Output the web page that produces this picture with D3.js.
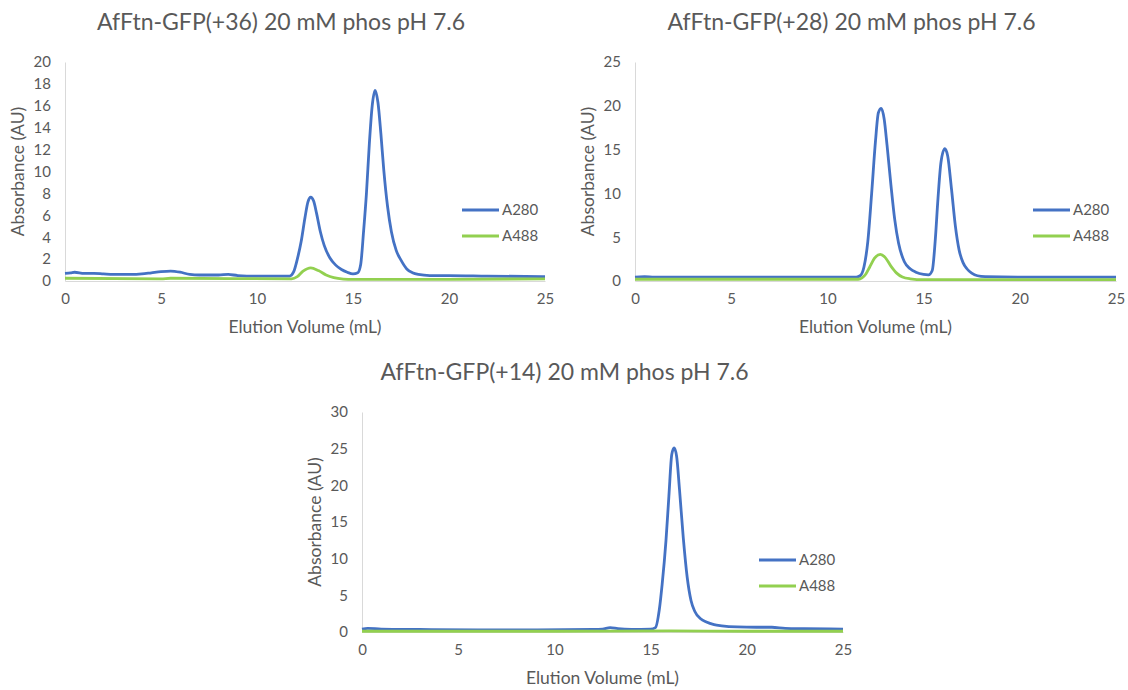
<!DOCTYPE html>
<html>
<head>
<meta charset="utf-8">
<script src="https://cdn.jsdelivr.net/npm/d3@7"></script>
<style>
  html, body { margin: 0; padding: 0; background: #fff; }
  svg { display: block; font-family: Lato, "Open Sans", sans-serif; }
</style>
</head>
<body>
<svg id="chart" width="1128" height="690"></svg>
<script>
// ---- Chromatogram data: [elution volume (mL), absorbance (AU)] ----
const titles = [
  "AfFtn-GFP(+36) 20 mM phos pH 7.6",
  "AfFtn-GFP(+28) 20 mM phos pH 7.6",
  "AfFtn-GFP(+14) 20 mM phos pH 7.6"
];
const seriesNames = ["A280", "A488"];
const xTicks = [0, 5, 10, 15, 20, 25];
const yTicks36 = [0, 2, 4, 6, 8, 10, 12, 14, 16, 18, 20];
const yTicks28 = [0, 5, 10, 15, 20, 25];
const yTicks14 = [0, 5, 10, 15, 20, 25, 30];

const a280Plus36 = [
  [0, 0.7], [0.3, 0.75], [0.5, 0.8], [1.0, 0.7], [1.5, 0.7], [2.0, 0.65], [2.5, 0.6],
  [3.0, 0.6], [3.5, 0.6], [4.0, 0.65], [4.5, 0.75], [5.0, 0.85], [5.5, 0.9], [6.0, 0.8],
  [6.5, 0.6], [7.0, 0.55], [8.0, 0.55], [8.5, 0.6], [9.0, 0.5], [10.0, 0.45], [11.0, 0.45],
  [11.7, 0.45], [11.9, 0.8], [12.1, 2.0], [12.3, 3.6], [12.5, 5.8], [12.65, 7.2], [12.8, 7.65],
  [12.95, 7.3], [13.1, 6.2], [13.3, 4.5], [13.5, 3.25], [13.8, 2.1], [14.1, 1.45], [14.4, 1.05],
  [14.7, 0.8], [15.0, 0.65], [15.25, 0.75], [15.4, 1.5], [15.55, 4.5], [15.7, 8.0],
  [15.85, 12.5], [16.0, 16.0], [16.15, 17.4], [16.3, 16.3], [16.45, 13.5], [16.6, 10.2],
  [16.8, 6.8], [17.0, 4.5], [17.25, 2.8], [17.5, 1.9], [17.8, 1.1], [18.1, 0.75],
  [18.4, 0.6], [19, 0.5], [20, 0.5], [22, 0.45], [25, 0.4]
];
const a488Plus36 = [
  [0, 0.25], [5, 0.2], [5.5, 0.25], [11.8, 0.2], [12.1, 0.4], [12.4, 0.9], [12.8, 1.2],
  [13.2, 0.95], [13.6, 0.55], [14.0, 0.3], [14.5, 0.18], [15, 0.15], [20, 0.15], [25, 0.2]
];

const a280Plus28 = [
  [0, 0.45], [0.5, 0.5], [1, 0.45], [5, 0.45], [10, 0.45], [11.5, 0.45], [11.7, 0.6],
  [11.9, 1.6], [12.1, 4.5], [12.3, 10], [12.5, 16], [12.65, 19.2], [12.8, 19.7],
  [12.95, 18.5], [13.1, 15.5], [13.3, 11], [13.5, 7], [13.7, 4.3], [14.0, 2.2], [14.3, 1.4],
  [14.6, 1.0], [15.0, 0.75], [15.25, 0.7], [15.45, 1.2], [15.6, 4.5], [15.75, 9.5],
  [15.9, 13.5], [16.1, 15.1], [16.25, 14.3], [16.45, 10.5], [16.65, 6.3], [16.85, 3.5],
  [17.05, 2.1], [17.25, 1.4], [17.5, 0.9], [17.8, 0.6], [18.2, 0.5], [20, 0.45], [25, 0.45]
];
const a488Plus28 = [
  [0, 0.2], [11.6, 0.2], [11.8, 0.35], [12.0, 0.8], [12.2, 1.6], [12.45, 2.6], [12.75, 3.05],
  [13.0, 2.7], [13.3, 1.7], [13.6, 0.9], [13.9, 0.45], [14.3, 0.25], [15, 0.15], [20, 0.15],
  [25, 0.15]
];

const a280Plus14 = [
  [0, 0.4], [0.3, 0.5], [1, 0.4], [3, 0.35], [6, 0.3], [9, 0.3], [12, 0.35], [12.5, 0.4],
  [12.9, 0.6], [13.3, 0.45], [14, 0.35], [15, 0.4], [15.25, 0.6], [15.45, 3], [15.6, 6.5],
  [15.8, 12.5], [15.95, 18.5], [16.1, 24.2], [16.22, 25.1], [16.35, 24], [16.5, 19.5],
  [16.7, 12.8], [16.9, 7.5], [17.1, 4.3], [17.3, 2.8], [17.6, 1.8], [17.9, 1.35], [18.3, 1.0],
  [18.7, 0.85], [19.5, 0.7], [20.5, 0.65], [21.3, 0.65], [22, 0.5], [23, 0.45], [25, 0.4]
];
const a488Plus14 = [
  [0, 0.1], [10, 0.1], [16, 0.15], [20, 0.1], [25, 0.1]
];

// ---- Panel layout ----
const colors = ["#4472C4", "#92D050"];
const panels = [
  { title: titles[0], series: [a280Plus36, a488Plus36], yMax: 20, yTicks: yTicks36,
    left: 65, right: 545, top: 62, bottom: 281, titleDx: -24, legendX: 462, legendY: 210 },
  { title: titles[1], series: [a280Plus28, a488Plus28], yMax: 25, yTicks: yTicks28,
    left: 635, right: 1116, top: 62, bottom: 281, titleDx: -24, legendX: 1033, legendY: 210 },
  { title: titles[2], series: [a280Plus14, a488Plus14], yMax: 30, yTicks: yTicks14,
    left: 362, right: 843, top: 412, bottom: 632, titleDx: -38, legendX: 759, legendY: 560 }
];

const svg = d3.select("#chart");
const textColor = "#595959";

panels.forEach(p => {
  const g = svg.append("g");
  const x = d3.scaleLinear().domain([0, 25]).range([p.left, p.right]);
  const y = d3.scaleLinear().domain([0, p.yMax]).range([p.bottom, p.top]);

  // Title
  g.append("text")
    .attr("x", (p.left + p.right) / 2 + p.titleDx)
    .attr("y", p.top - 32)
    .attr("text-anchor", "middle")
    .attr("font-size", 23)
    .attr("fill", textColor)
    .text(p.title);

  // Axes (no tick marks, light gray axis lines)
  const xAxis = g.append("g")
    .attr("transform", `translate(0,${p.bottom})`)
    .call(d3.axisBottom(x).tickValues(xTicks).tickSize(0).tickPadding(12));
  const yAxis = g.append("g")
    .attr("transform", `translate(${p.left},0)`)
    .call(d3.axisLeft(y).tickValues(p.yTicks).tickSize(0).tickPadding(14));
  [xAxis, yAxis].forEach(a => {
    a.select(".domain").attr("stroke", "#d9d9d9").attr("stroke-width", 1);
    a.selectAll("text").attr("fill", textColor).attr("font-size", 15)
      .attr("font-family", "Lato, 'Open Sans', sans-serif");
  });

  // Axis titles
  g.append("text")
    .attr("x", (p.left + p.right) / 2)
    .attr("y", p.bottom + 52)
    .attr("text-anchor", "middle")
    .attr("font-size", 17.5)
    .attr("fill", textColor)
    .text("Elution Volume (mL)");
  g.append("text")
    .attr("transform", `translate(${p.left - 41},${(p.top + p.bottom) / 2}) rotate(-90)`)
    .attr("text-anchor", "middle")
    .attr("font-size", 17.5)
    .attr("fill", textColor)
    .text("Absorbance (AU)");

  // Traces
  const line = d3.line()
    .x(d => x(d[0]))
    .y(d => y(d[1]))
    .curve(d3.curveMonotoneX);
  p.series.forEach((s, i) => {
    g.append("path")
      .datum(s)
      .attr("fill", "none")
      .attr("stroke", colors[i])
      .attr("stroke-width", 2.8)
      .attr("stroke-linejoin", "round")
      .attr("d", line);
  });

  // Legend
  seriesNames.forEach((name, i) => {
    const ly = p.legendY + i * 26;
    g.append("line")
      .attr("x1", p.legendX).attr("x2", p.legendX + 37)
      .attr("y1", ly).attr("y2", ly)
      .attr("stroke", colors[i]).attr("stroke-width", 2.8);
    g.append("text")
      .attr("x", p.legendX + 40)
      .attr("y", ly)
      .attr("dy", "0.35em")
      .attr("font-size", 15)
      .attr("fill", textColor)
      .text(name);
  });
});
</script>
</body>
</html>
